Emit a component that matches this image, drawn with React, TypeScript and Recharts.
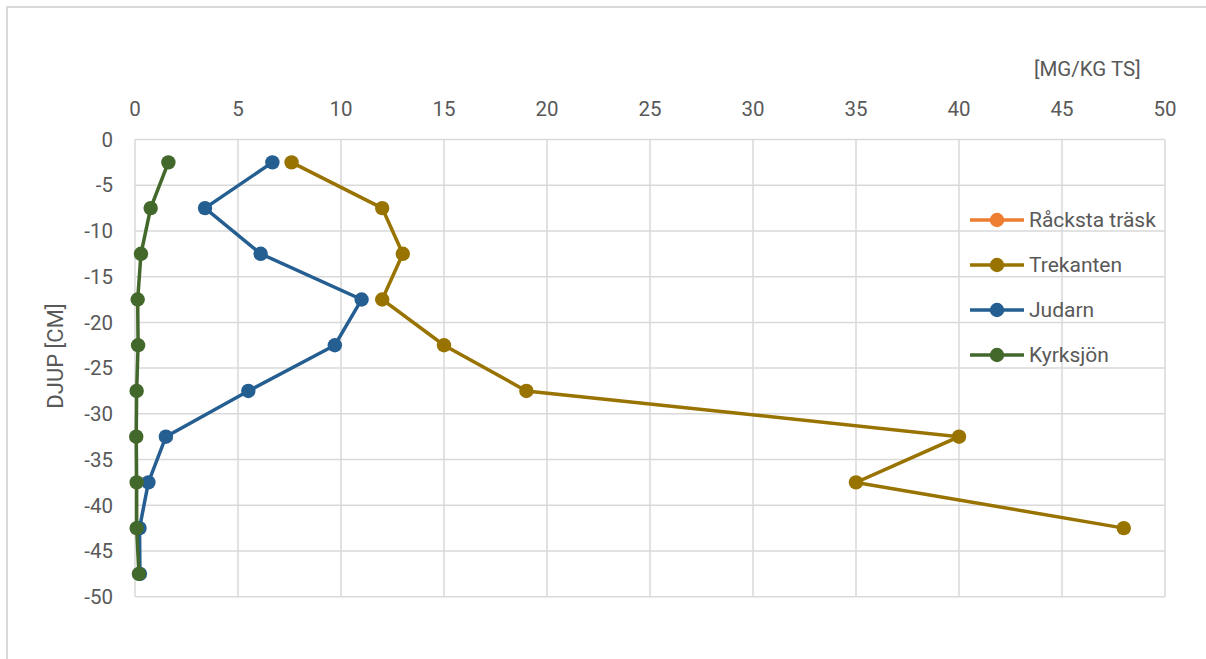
import React from "react";
import {
  ScatterChart,
  Scatter,
  XAxis,
  YAxis,
  CartesianGrid,
} from "recharts";

const depths = [-2.5, -7.5, -12.5, -17.5, -22.5, -27.5, -32.5, -37.5, -42.5, -47.5];

const rackstaTrask: number[] = [];
const trekanten = [7.6, 12.0, 13.0, 12.0, 15.0, 19.0, 40.0, 35.0, 48.0];
const judarn = [6.67, 3.4, 6.1, 11.0, 9.7, 5.5, 1.5, 0.65, 0.22, 0.24];
const kyrksjon = [1.62, 0.76, 0.29, 0.13, 0.15, 0.08, 0.06, 0.08, 0.08, 0.19];

const xTicks = [0, 5, 10, 15, 20, 25, 30, 35, 40, 45, 50];
const yTicks = [0, -5, -10, -15, -20, -25, -30, -35, -40, -45, -50];

const FONT = "Roboto, 'Noto Sans', sans-serif";
const TEXT = "#595959";
const GRID = "#d9d9d9";

const series = [
  { name: "Råcksta träsk", values: rackstaTrask, color: "#ED7D31" },
  { name: "Trekanten", values: trekanten, color: "#997300" },
  { name: "Judarn", values: judarn, color: "#255E91" },
  { name: "Kyrksjön", values: kyrksjon, color: "#43682B" },
];

const toPoints = (values: number[]) =>
  values.map((v, i) => ({ x: v, y: depths[i] }));

// plain filled circle markers, like the Excel original
const dot = (color: string) => (props: any) =>
  <circle cx={props.cx} cy={props.cy} r={7.2} fill={color} />;

export default function App() {
  return (
    <div
      style={{
        position: "absolute",
        left: 6,
        top: 6,
        width: 1198,
        height: 651,
        borderTop: "2px solid #d9d9d9",
        borderLeft: "2px solid #d9d9d9",
        overflow: "hidden",
        fontFamily: FONT,
        background: "#fff",
      }}
    >
      <ScatterChart
        width={1198}
        height={652}
        margin={{ top: 101.5, right: 41, bottom: 63.3, left: 67 }}
      >
        <CartesianGrid stroke={GRID} strokeWidth={1.5} />
        <XAxis
          type="number"
          dataKey="x"
          orientation="top"
          domain={[0, 50]}
          ticks={xTicks}
          height={30}
          axisLine={false}
          tickLine={false}
          tickSize={0}
          tickMargin={24}
          tick={{ fill: TEXT, fontSize: 20.5, fontFamily: FONT }}
        />
        <YAxis
          type="number"
          dataKey="y"
          domain={[-50, 0]}
          ticks={yTicks}
          width={60}
          axisLine={false}
          tickLine={false}
          tickSize={0}
          tickMargin={22}
          tick={{ fill: TEXT, fontSize: 20.5, fontFamily: FONT }}
        />
        {series.map((s) => (
          <Scatter
            key={s.name}
            name={s.name}
            data={toPoints(s.values)}
            fill={s.color}
            line={{ stroke: s.color, strokeWidth: 3.5 }}
            lineType="joint"
            shape={dot(s.color)}
            isAnimationActive={false}
          />
        ))}
      </ScatterChart>

      <div
        style={{
          position: "absolute",
          left: 1026,
          top: 49,
          fontSize: 20.5,
          lineHeight: "24px",
          color: TEXT,
          whiteSpace: "nowrap",
        }}
      >
        [MG/KG TS]
      </div>

      <div
        style={{
          position: "absolute",
          left: 48,
          top: 348,
          fontSize: 22,
          lineHeight: "26px",
          color: TEXT,
          whiteSpace: "nowrap",
          transform: "translate(-50%, -50%) rotate(-90deg)",
        }}
      >
        DJUP [CM]
      </div>

      {series.map((s, i) => (
        <div
          key={s.name}
          style={{
            position: "absolute",
            left: 962,
            top: 212 + i * 45 - 13,
            height: 26,
            display: "flex",
            alignItems: "center",
            whiteSpace: "nowrap",
            color: TEXT,
            fontSize: 21,
          }}
        >
          <svg width={56} height={26} style={{ marginRight: 3 }}>
            <line x1={0} y1={13} x2={54} y2={13} stroke={s.color} strokeWidth={3.5} />
            <circle cx={27} cy={13} r={7.2} fill={s.color} />
          </svg>
          {s.name}
        </div>
      ))}
    </div>
  );
}
